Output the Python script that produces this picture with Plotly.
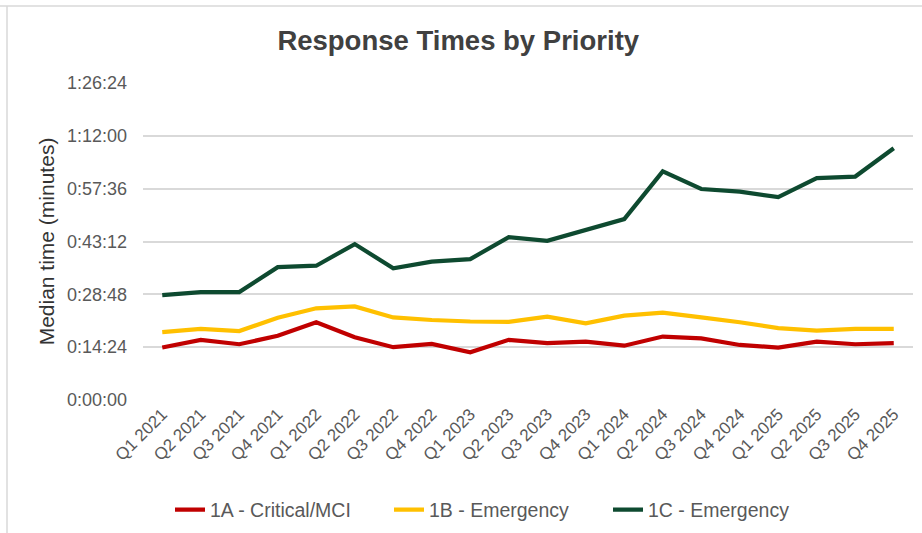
import plotly.graph_objects as go

quarters = ["Q1 2021", "Q2 2021", "Q3 2021", "Q4 2021", "Q1 2022", "Q2 2022", "Q3 2022", "Q4 2022",
            "Q1 2023", "Q2 2023", "Q3 2023", "Q4 2023", "Q1 2024", "Q2 2024", "Q3 2024", "Q4 2024",
            "Q1 2025", "Q2 2025", "Q3 2025", "Q4 2025"]

# median times in minutes
critical_1a = [14.3, 16.4, 15.2, 17.5, 21.2, 17.1, 14.4, 15.3, 13.0, 16.4,
               15.5, 15.9, 14.8, 17.3, 16.8, 15.0, 14.3, 15.9, 15.2, 15.5]
emergency_1b = [18.5, 19.4, 18.8, 22.4, 25.0, 25.5, 22.5, 21.8, 21.4, 21.3,
                22.7, 20.9, 23.0, 23.8, 22.5, 21.2, 19.6, 18.9, 19.4, 19.4]
emergency_1c = [28.6, 29.4, 29.4, 36.2, 36.6, 42.5, 35.9, 37.7, 38.4, 44.4,
                43.4, 46.4, 49.3, 62.3, 57.5, 56.8, 55.3, 60.5, 60.9, 68.6]

tick_vals = [0, 14.4, 28.8, 43.2, 57.6, 72.0, 86.4]
tick_text = ["0:00:00", "0:14:24", "0:28:48", "0:43:12", "0:57:36", "1:12:00", "1:26:24"]

series = [
    ("1A - Critical/MCI", critical_1a, "#C00000"),
    ("1B - Emergency", emergency_1b, "#FFC000"),
    ("1C - Emergency", emergency_1c, "#0E4A30"),
]

fig = go.Figure()
for name, vals, color in series:
    fig.add_trace(go.Scatter(x=quarters, y=vals, name=name, mode="lines",
                             line=dict(color=color, width=4.2)))

PW, PH = 770, 316.7
fig.update_layout(
    width=922, height=533,
    margin=dict(l=143, r=9, t=83, b=133),
    paper_bgcolor="white", plot_bgcolor="white",
    font=dict(family="Liberation Sans, Arial, sans-serif", color="#595959", size=17),
    title=dict(text="<b>Response Times by Priority</b>", x=0.497, xref="container", xanchor="center",
               y=1 - 40 / 533, yref="container", yanchor="middle",
               font=dict(size=27.5, color="#404040")),
    showlegend=True,
    legend=dict(orientation="h", x=170 / 922, xref="container", xanchor="left",
                y=1 - 510 / 533, yref="container", yanchor="middle",
                font=dict(size=19.5, color="#595959"), itemwidth=30, tracegroupgap=0,
                entrywidth=174, entrywidthmode="pixels"),
    shapes=[
        dict(type="line", xref="paper", yref="paper", x0=-143 / PW, x1=1.02,
             y0=1 + 77 / PH, y1=1 + 77 / PH, line=dict(color="#d9d9d9", width=1.5)),
        dict(type="line", xref="paper", yref="paper", x0=-136 / PW, x1=-136 / PW,
             y0=1 + 77 / PH, y1=-133 / PH, line=dict(color="#d9d9d9", width=1.5)),
    ],
)

fig.update_xaxes(tickangle=-45, showgrid=False, showline=False, ticks="",
                 range=[-0.5, len(quarters) - 0.5],
                 tickfont=dict(size=17, color="#595959"))
fig.update_yaxes(range=[0, 86.4], tickvals=tick_vals, ticktext=tick_text,
                 showgrid=True, gridcolor="#d9d9d9", gridwidth=1.5, zeroline=False,
                 showline=False, ticks="", ticklabelstandoff=15,
                 tickfont=dict(size=18, color="#595959"),
                 title=dict(text="Median time (minutes)", standoff=6,
                            font=dict(size=21, color="#333333")))

fig.write_html("out.html", config={"displayModeBar": False},
               post_script="document.body.style.margin='0';")
